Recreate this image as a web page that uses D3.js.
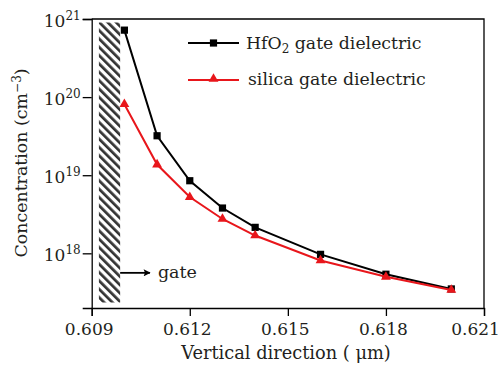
<!DOCTYPE html>
<html>
<head>
<meta charset="utf-8">
<script src="https://cdn.jsdelivr.net/npm/d3@7"></script>
<style>
  body { margin: 0; background: #fff; }
  text { font-family: "DejaVu Serif", serif; fill: #231f20; }
</style>
</head>
<body>
<div id="chart"></div>
<script>
// data
var positions = [0.610, 0.611, 0.612, 0.613, 0.614, 0.616, 0.618, 0.620];
var hfo2Values = [7.2e20, 3.2e19, 8.5e18, 3.8e18, 2.15e18, 9.7e17, 5.4e17, 3.5e17];
var silicaValues = [8.1e19, 1.37e19, 5.25e18, 2.75e18, 1.69e18, 8.1e17, 5.0e17, 3.4e17];
var xTicks = [0.609, 0.612, 0.615, 0.618, 0.621];
var yTicks = [1e18, 1e19, 1e20, 1e21];
var gateRange = [0.60922, 0.60987];
var gateArrowEnd = 0.61078;
var gateLevel = Math.pow(10, 17.75);

function init() {
    var w = 502, h = 371;
    var left = 91.7, right = 484, top = 19, bottom = 308;

    var svg = d3.select("#chart").append("svg")
        .attr("width", w)
        .attr("height", h);

    var xScale = d3.scaleLinear().domain([0.609, 0.621]).range([left, right]);
    var yScale = d3.scaleLog().domain([Math.pow(10, 17.3), 1e21]).range([bottom, top]);

    // hatch pattern for the gate
    var defs = svg.append("defs");
    var pat = defs.append("pattern")
        .attr("id", "hatch")
        .attr("patternUnits", "userSpaceOnUse")
        .attr("width", 5.9)
        .attr("height", 5.9)
        .attr("patternTransform", "rotate(-45)");
    pat.append("rect").attr("width", 2.7).attr("height", 5.9).attr("fill", "#333");

    svg.append("rect")
        .attr("x", xScale(gateRange[0]))
        .attr("y", top + 3.5)
        .attr("width", xScale(gateRange[1]) - xScale(gateRange[0]))
        .attr("height", bottom - top - 9)
        .attr("fill", "url(#hatch)");

    // arrow to "gate"
    defs.append("marker")
        .attr("id", "arrowhead")
        .attr("viewBox", "0 0 10 10")
        .attr("refX", 9).attr("refY", 5)
        .attr("markerWidth", 10).attr("markerHeight", 7)
        .attr("markerUnits", "userSpaceOnUse")
        .attr("orient", "auto")
        .append("path")
        .attr("d", "M0,0 L10,5 L0,10 L2,5 Z")
        .attr("fill", "#000");

    svg.append("line")
        .attr("x1", xScale(gateRange[1]))
        .attr("x2", xScale(gateArrowEnd))
        .attr("y1", yScale(gateLevel))
        .attr("y2", yScale(gateLevel))
        .attr("stroke", "#000")
        .attr("stroke-width", 1.8)
        .attr("marker-end", "url(#arrowhead)");

    svg.append("text")
        .attr("x", xScale(gateArrowEnd) + 8)
        .attr("y", yScale(gateLevel) + 5)
        .style("font-size", "17.5px")
        .text("gate");

    // axes
    var xAxis = d3.axisBottom(xScale)
        .tickValues(xTicks)
        .tickSize(8)
        .tickPadding(7)
        .tickFormat(d3.format(".3f"));
    var yAxis = d3.axisLeft(yScale)
        .tickValues(yTicks)
        .tickSize(9)
        .tickPadding(3)
        .tickFormat("");

    var gx = svg.append("g")
        .attr("transform", "translate(0," + bottom + ")")
        .call(xAxis);
    gx.selectAll("text")
        .style("font-size", "17px")
        .attr("fill", "#231f20")
        .attr("x", function(d, i) { return i === xTicks.length - 1 ? -9 : -3; });

    var gy = svg.append("g")
        .attr("transform", "translate(" + left + ",0)")
        .call(yAxis);
    gy.selectAll(".tick").each(function(d) {
        var t = d3.select(this).select("text")
            .attr("x", -11)
            .attr("dy", "0.42em")
            .style("font-size", "17px")
            .attr("fill", "#231f20");
        t.append("tspan").text("10");
        t.append("tspan")
            .attr("dy", "-0.55em")
            .style("font-size", "12px")
            .text(Math.round(Math.log10(d)));
    });

    svg.selectAll(".domain").attr("stroke", "#000").attr("stroke-width", 1.3);
    svg.selectAll(".tick line").attr("stroke", "#000").attr("stroke-width", 1.3);

    // frame top and right
    svg.append("path")
        .attr("d", "M" + left + "," + top + "H" + right + "V" + bottom)
        .attr("fill", "none")
        .attr("stroke", "#000")
        .attr("stroke-width", 1.3);

    // series
    var line = d3.line()
        .x(function(d, i) { return xScale(positions[i]); })
        .y(function(d) { return yScale(d); });

    var red = "#e8161b";

    svg.append("path")
        .datum(hfo2Values)
        .attr("d", line)
        .attr("fill", "none")
        .attr("stroke", "#000")
        .attr("stroke-width", 2);

    svg.selectAll(".sq")
        .data(hfo2Values)
        .enter().append("path")
        .attr("class", "sq")
        .attr("transform", function(d, i) { return "translate(" + xScale(positions[i]) + "," + yScale(d) + ")"; })
        .attr("d", d3.symbol().type(d3.symbolSquare).size(52))
        .attr("fill", "#000");

    svg.append("path")
        .datum(silicaValues)
        .attr("d", line)
        .attr("fill", "none")
        .attr("stroke", red)
        .attr("stroke-width", 2);

    svg.selectAll(".tri")
        .data(silicaValues)
        .enter().append("path")
        .attr("class", "tri")
        .attr("transform", function(d, i) { return "translate(" + xScale(positions[i]) + "," + yScale(d) + ")"; })
        .attr("d", d3.symbol().type(d3.symbolTriangle).size(42))
        .attr("fill", red);

    // legend
    var leg = svg.append("g");
    leg.append("line").attr("x1", 188).attr("x2", 239).attr("y1", 43).attr("y2", 43)
        .attr("stroke", "#000").attr("stroke-width", 2);
    leg.append("path").attr("transform", "translate(213.5,43)")
        .attr("d", d3.symbol().type(d3.symbolSquare).size(52)).attr("fill", "#000");
    var t1 = leg.append("text").attr("x", 246).attr("y", 49).style("font-size", "17.3px");
    t1.append("tspan").text("HfO");
    t1.append("tspan").attr("dy", 4).style("font-size", "12px").text("2");
    t1.append("tspan").attr("dy", -4).text(" gate dielectric");

    leg.append("line").attr("x1", 188).attr("x2", 239).attr("y1", 80).attr("y2", 80)
        .attr("stroke", red).attr("stroke-width", 2);
    leg.append("path").attr("transform", "translate(213.5,79)")
        .attr("d", d3.symbol().type(d3.symbolTriangle).size(42)).attr("fill", red);
    leg.append("text").attr("x", 248).attr("y", 85).style("font-size", "17.3px")
        .text("silica gate dielectric");

    // axis titles
    var xt = svg.append("text")
        .attr("x", 286)
        .attr("y", 359)
        .attr("text-anchor", "middle")
        .style("font-size", "17.8px");
    xt.text("Vertical direction ( μm)");

    var yt = svg.append("text")
        .attr("transform", "translate(27," + 163 + ") rotate(-90)")
        .attr("text-anchor", "middle")
        .style("font-size", "17.4px");
    yt.append("tspan").text("Concentration (cm");
    yt.append("tspan").attr("dy", -6).style("font-size", "12px").text("−3");
    yt.append("tspan").attr("dy", 6).text(")");
}

window.onload = init;
</script>
</body>
</html>
